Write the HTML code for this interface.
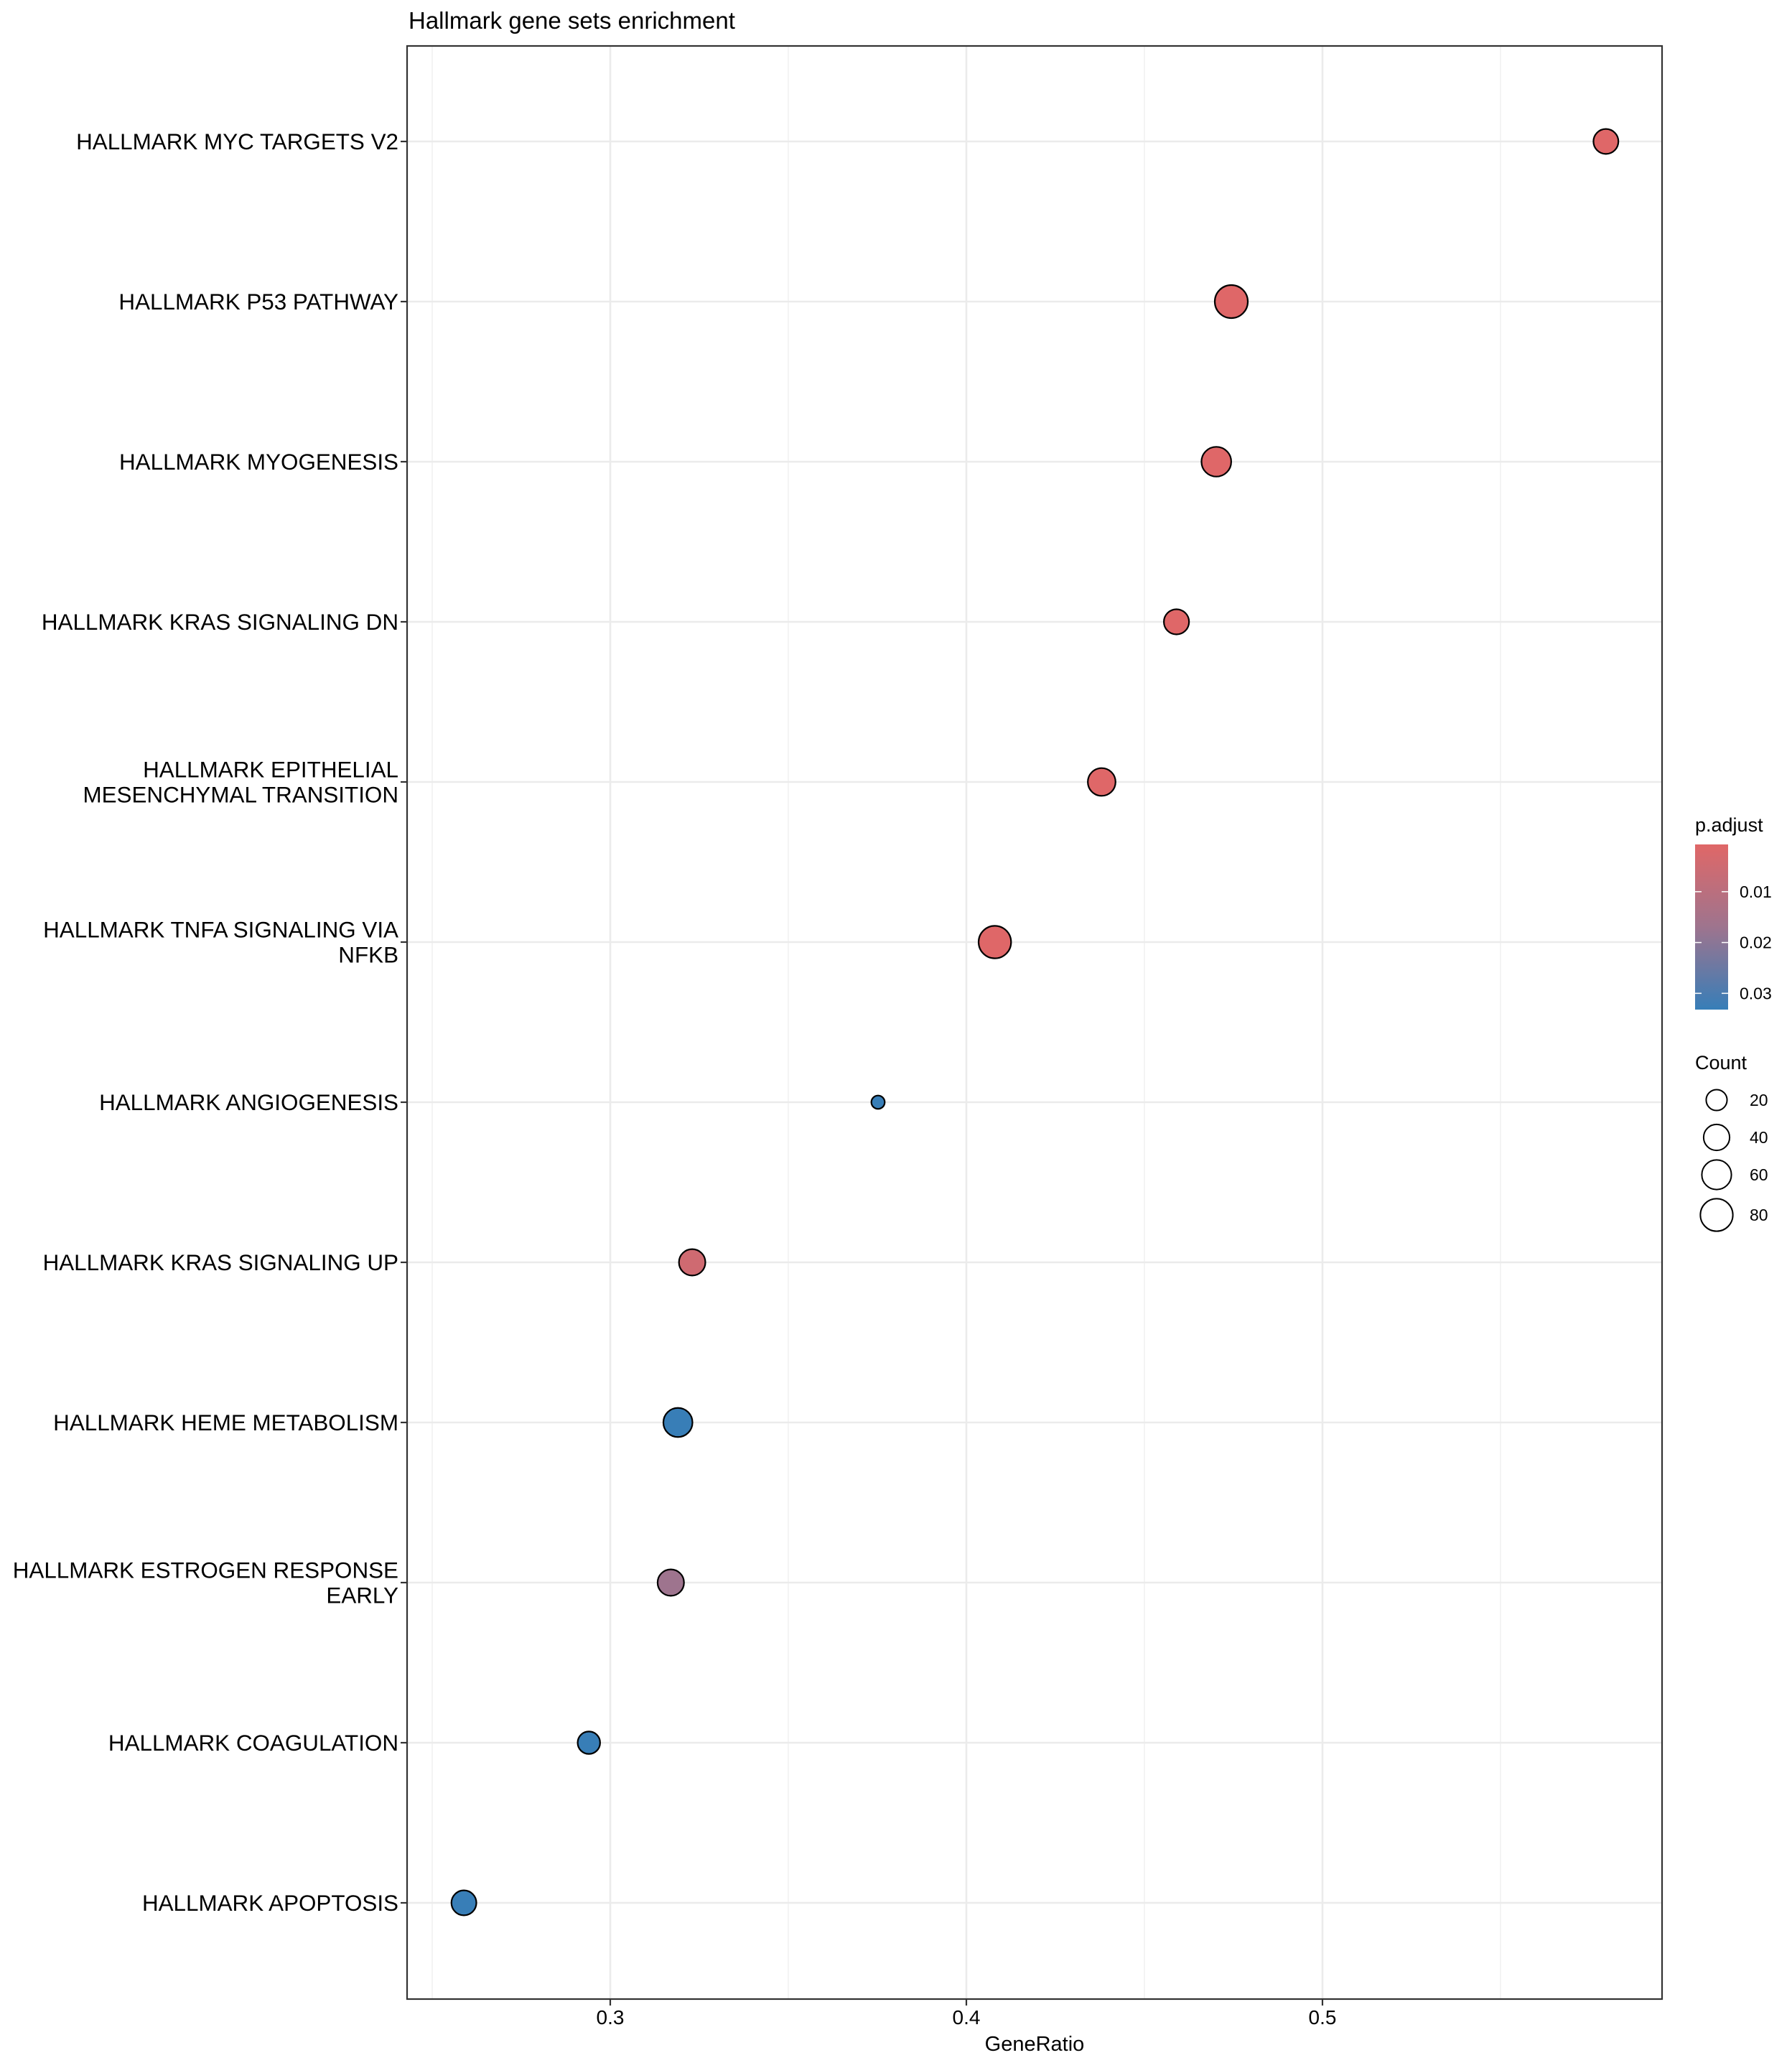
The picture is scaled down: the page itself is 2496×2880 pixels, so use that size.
<!DOCTYPE html>
<html><head><meta charset="utf-8"><style>
html,body{margin:0;padding:0;background:#fff;}
svg{display:block;font-family:"Liberation Sans",Arial,sans-serif;}
</style></head><body>
<svg id="chart" width="2496" height="2880" viewBox="0 0 2496 2880" xmlns="http://www.w3.org/2000/svg">
<text x="569" y="40" font-size="33" fill="#000">Hallmark gene sets enrichment</text>
<g id="grid"></g>
<g id="points"></g>
<rect x="567" y="64" width="1748" height="2720" fill="none" stroke="#333" stroke-width="2.2"/>
<g id="yaxis"></g>
<g id="xaxis"></g>
<text x="1441" y="2856" font-size="29" text-anchor="middle" fill="#000">GeneRatio</text>
<g id="legend"></g>
</svg>
<script>
const categories = [
 ["HALLMARK MYC TARGETS V2"],
 ["HALLMARK P53 PATHWAY"],
 ["HALLMARK MYOGENESIS"],
 ["HALLMARK KRAS SIGNALING DN"],
 ["HALLMARK EPITHELIAL","MESENCHYMAL TRANSITION"],
 ["HALLMARK TNFA SIGNALING VIA","NFKB"],
 ["HALLMARK ANGIOGENESIS"],
 ["HALLMARK KRAS SIGNALING UP"],
 ["HALLMARK HEME METABOLISM"],
 ["HALLMARK ESTROGEN RESPONSE","EARLY"],
 ["HALLMARK COAGULATION"],
 ["HALLMARK APOPTOSIS"]
];
const geneRatio = [0.5796,0.4744,0.4702,0.459,0.438,0.408,0.3752,0.323,0.319,0.317,0.294,0.2589];
const counts = [35,84,61,36,49,80,9,42,57,42,25,35];
const pAdjust = [0.001,0.001,0.001,0.001,0.001,0.001,0.033,0.005,0.033,0.017,0.033,0.033];
const xMajorTicks = [0.3,0.4,0.5];
const xMinorTicks = [0.25,0.35,0.45,0.55];
const pTicks = [0.01,0.02,0.03];
const countBreaks = [20,40,60,80];

const NS="http://www.w3.org/2000/svg";
function mk(tag,attrs,parent){const e=document.createElementNS(NS,tag);for(const k in attrs)e.setAttribute(k,attrs[k]);parent.appendChild(e);return e;}
const X0=567,X1=2315,Y0=64,Y1=2784;
function xs(v){return 850+(v-0.3)*4960;}
const rowTop=197,rowStep=(2650-197)/(categories.length-1);
function ys(i){return rowTop+i*rowStep;}
const cmin=Math.min(...counts),cmax=Math.max(...counts);
function rs(c){return 10.3+13.7*Math.sqrt(Math.max(0,(c-cmin)/(cmax-cmin)));}
const pmin=0.0007,pmax=0.0332;
const cRed=[224,103,103],cMid=[158,116,142],cBlue=[55,126,184];
function col(p){let t=(p-pmin)/(pmax-pmin);t=Math.max(0,Math.min(1,t));let a,b,u;
 if(t<0.5){a=cRed;b=cMid;u=t/0.5;}else{a=cMid;b=cBlue;u=(t-0.5)/0.5;}
 return "rgb("+a.map((v,i)=>Math.round(v+(b[i]-v)*u)).join(",")+")";}
const grid=document.getElementById('grid');
xMinorTicks.forEach(v=>{const l=mk('line',{x1:xs(v),x2:xs(v),y1:Y0,y2:Y1,stroke:'#EFEFEF','stroke-width':1.4},grid);
});
xMajorTicks.forEach(v=>{const l=mk('line',{x1:xs(v),x2:xs(v),y1:Y0,y2:Y1,stroke:'#EBEBEB','stroke-width':2.6},grid);
});
categories.forEach((c,i)=>{const l=mk('line',{x1:X0,x2:X1,y1:ys(i),y2:ys(i),stroke:'#EBEBEB','stroke-width':2.6},grid);
});
const pts=document.getElementById('points');
geneRatio.forEach((v,i)=>{const c=mk('circle',{cx:xs(v),cy:ys(i),r:rs(counts[i])-1,fill:col(pAdjust[i]),stroke:'#000','stroke-width':2.2},pts);
});
const ya=document.getElementById('yaxis');
categories.forEach((lines,i)=>{const y=ys(i);
 const tk=mk('line',{x1:X0-9,x2:X0,y1:y,y2:y,stroke:'#333','stroke-width':2.2},ya);
 
 const n=lines.length;lines.forEach((s,j)=>{const t=mk('text',{x:555,y:y+11+(j-(n-1)/2)*35,'font-size':31.4,'text-anchor':'end',fill:'#000'},ya);
 t.textContent=s;});});
const xa=document.getElementById('xaxis');
xMajorTicks.forEach(v=>{const tk=mk('line',{x1:xs(v),x2:xs(v),y1:Y1,y2:Y1+9,stroke:'#333','stroke-width':2.2},xa);

const t=mk('text',{x:xs(v),y:2819,'font-size':28,'text-anchor':'middle',fill:'#000'},xa);t.textContent=v.toFixed(1);
});
const lg=document.getElementById('legend');
const t1=mk('text',{x:2361,y:1158,'font-size':27,fill:'#000'},lg);t1.textContent='p.adjust';

const defs=mk('defs',{},lg);const gr=mk('linearGradient',{id:'pg',x1:0,y1:0,x2:0,y2:1},defs);
[0,0.25,0.5,0.75,1].forEach(o=>{mk('stop',{offset:o,'stop-color':col(pmin+o*(pmax-pmin))},gr);});
const by0=1176,by1=1406;
const bar=mk('rect',{x:2361,y:by0,width:46,height:by1-by0,fill:'url(#pg)'},lg);

function py(p){return by0+(p-pmin)/(pmax-pmin)*(by1-by0);}
pTicks.forEach(p=>{const y=py(p);
 mk('line',{x1:2361,x2:2370,y1:y,y2:y,stroke:'#fff','stroke-width':1.5},lg);
 mk('line',{x1:2398,x2:2407,y1:y,y2:y,stroke:'#fff','stroke-width':1.5},lg);
 const t=mk('text',{x:2423,y:y+8,'font-size':23,fill:'#000'},lg);t.textContent=p.toFixed(2);
 });
const t2=mk('text',{x:2361,y:1489,'font-size':27,fill:'#000'},lg);t2.textContent='Count';

const cys=[1532,1584,1636,1692];
countBreaks.forEach((c,i)=>{const k=mk('circle',{cx:2391,cy:cys[i],r:rs(c)-1,fill:'none',stroke:'#000','stroke-width':2},lg);

const t=mk('text',{x:2437,y:cys[i]+8,'font-size':23,fill:'#000'},lg);t.textContent=c;
});
</script>
</body></html>
